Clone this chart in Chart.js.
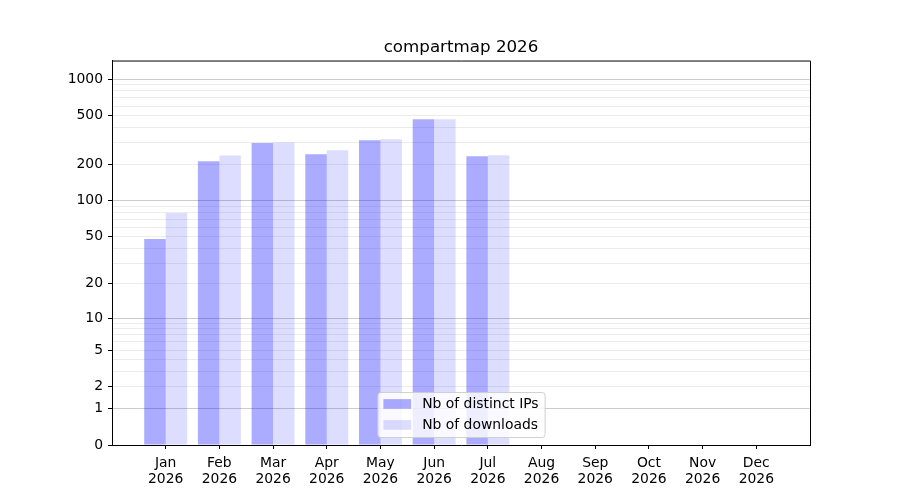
<!DOCTYPE html>
<html>
<head>
<meta charset="utf-8">
<script src="https://cdn.jsdelivr.net/npm/chart.js@4.4.1/dist/chart.umd.min.js"></script>
<style>
  html, body { margin: 0; padding: 0; background: #fff; }
</style>
</head>
<body>
<canvas id="myChart" width="900" height="500"></canvas>
<script>
const months = ['Jan', 'Feb', 'Mar', 'Apr', 'May', 'Jun', 'Jul', 'Aug', 'Sep', 'Oct', 'Nov', 'Dec'];
const year = '2026';
const distinctIPs = [48, 211, 298, 241, 314, 467, 232];
const downloads = [79, 236, 302, 260, 320, 468, 237];
const yLabelTicks = [0, 1, 2, 5, 10, 20, 50, 100, 200, 500, 1000];
const yMinorTicks = [3, 4, 6, 7, 8, 9, 30, 40, 60, 70, 80, 90, 300, 400, 600, 700, 800, 900];
const yDecades = [1, 10, 100, 1000];
const yTop = 1420;

const FONT = 'DejaVu Sans';

// y axis like matplotlib's function scale log10(1 + x)
class Log1pScale extends Chart.LinearScale {
    getPixelForValue(value) {
        const lo = Math.log10(1 + this.min);
        const hi = Math.log10(1 + this.max);
        return this.getPixelForDecimal((Math.log10(1 + value) - lo) / (hi - lo));
    }
    getValueForPixel(pixel) {
        const lo = Math.log10(1 + this.min);
        const hi = Math.log10(1 + this.max);
        const d = this.getDecimalForPixel(pixel);
        return Math.pow(10, lo + d * (hi - lo)) - 1;
    }
}
Log1pScale.id = 'log1p';
Log1pScale.defaults = Chart.LinearScale.defaults;
Chart.register(Log1pScale);

// top / right spines + legend box inside the plot (lower center)
const frameAndLegend = {
    id: 'frameAndLegend',
    afterDraw(chart) {
        const c = chart.ctx;
        const a = chart.chartArea;
        c.save();
        c.strokeStyle = '#000';
        c.lineWidth = 1;
        c.beginPath();
        c.moveTo(a.left, a.top + 0.5);
        c.lineTo(a.right + 0.5, a.top + 0.5);
        c.lineTo(a.right + 0.5, a.bottom);
        c.stroke();

        const sets = chart.data.datasets;
        c.font = '13.9px "' + FONT + '"';
        let tw = 0;
        sets.forEach(ds => { tw = Math.max(tw, c.measureText(ds.label).width); });
        const pad = 6, sw = 27.8, gap = 11, row = 21;
        const w = pad + sw + gap + tw + pad;
        const h = 12 * 2 + row * (sets.length - 1);
        const x = (a.left + a.right) / 2 - w / 2;
        const y = a.bottom - 8 - h;
        c.beginPath();
        c.roundRect(x + 0.5, y + 0.5, w, h, 3);
        c.fillStyle = 'rgba(255,255,255,0.8)';
        c.fill();
        c.strokeStyle = 'rgba(204,204,204,0.9)';
        c.stroke();
        sets.forEach((ds, i) => {
            const cy = y + 12 + i * row;
            c.fillStyle = ds.backgroundColor;
            c.fillRect(x + pad, cy - 4.9, sw, 9.7);
            c.fillStyle = '#000';
            c.textBaseline = 'middle';
            c.textAlign = 'left';
            c.fillText(ds.label, x + pad + sw + gap, cy);
        });
        c.restore();
    }
};

const ctx = document.getElementById('myChart').getContext('2d');
const myChart = new Chart(ctx, {
    type: 'bar',
    data: {
        datasets: [{
            label: 'Nb of distinct IPs',
            data: distinctIPs.map((v, i) => ({ x: i, y: v })),
            backgroundColor: 'rgba(0, 0, 255, 0.33)',
            borderWidth: 0
        }, {
            label: 'Nb of downloads',
            data: downloads.map((v, i) => ({ x: i, y: v })),
            backgroundColor: 'rgba(0, 0, 255, 0.135)',
            borderWidth: 0
        }]
    },
    options: {
        responsive: false,
        animation: false,
        devicePixelRatio: 1,
        categoryPercentage: 0.8,
        barPercentage: 1.0,
        layout: { padding: { left: 0, right: 90, top: 0, bottom: 0 } },
        scales: {
            x: {
                type: 'linear',
                min: -1,
                max: 12,
                offset: false,
                afterBuildTicks: s => { s.ticks = months.map((m, i) => ({ value: i })); },
                afterFit: s => { s.height = 55; },
                ticks: {
                    callback: (v, i) => [months[i], year],
                    font: { family: FONT, size: 13.9, lineHeight: 1.13 },
                    color: '#000',
                    padding: 6.5,
                    maxRotation: 0,
                    autoSkip: false
                },
                grid: { offset: false, drawOnChartArea: false, tickLength: 4, tickColor: '#000' },
                border: { color: '#000', width: 1 }
            },
            y: {
                type: 'log1p',
                min: 0,
                max: yTop,
                afterBuildTicks: s => {
                    s.ticks = yLabelTicks.concat(yMinorTicks).sort((a, b) => a - b).map(v => ({ value: v }));
                },
                afterFit: s => { s.width = 112; },
                ticks: {
                    callback: v => (yLabelTicks.includes(v) ? String(v) : ''),
                    font: { family: FONT, size: 13.9 },
                    color: '#000',
                    padding: 5,
                    autoSkip: false
                },
                grid: {
                    color: c => (yDecades.includes(c.tick.value) ? 'rgba(0,0,0,0.2)' : 'rgba(0,0,0,0.075)'),
                    tickColor: c => (yLabelTicks.includes(c.tick.value) ? '#000' : 'rgba(0,0,0,0)'),
                    tickLength: 4,
                    lineWidth: 1
                },
                border: { color: '#000', width: 1 }
            }
        },
        plugins: {
            legend: { display: false },
            tooltip: { enabled: false },
            title: {
                display: true,
                fullSize: false,
                text: 'compartmap ' + year,
                color: '#000',
                font: { family: FONT, size: 16.7, weight: 'normal', lineHeight: 1.2 },
                padding: { top: 38, bottom: 2.5 }
            }
        }
    },
    plugins: [frameAndLegend]
});
</script>
</body>
</html>
